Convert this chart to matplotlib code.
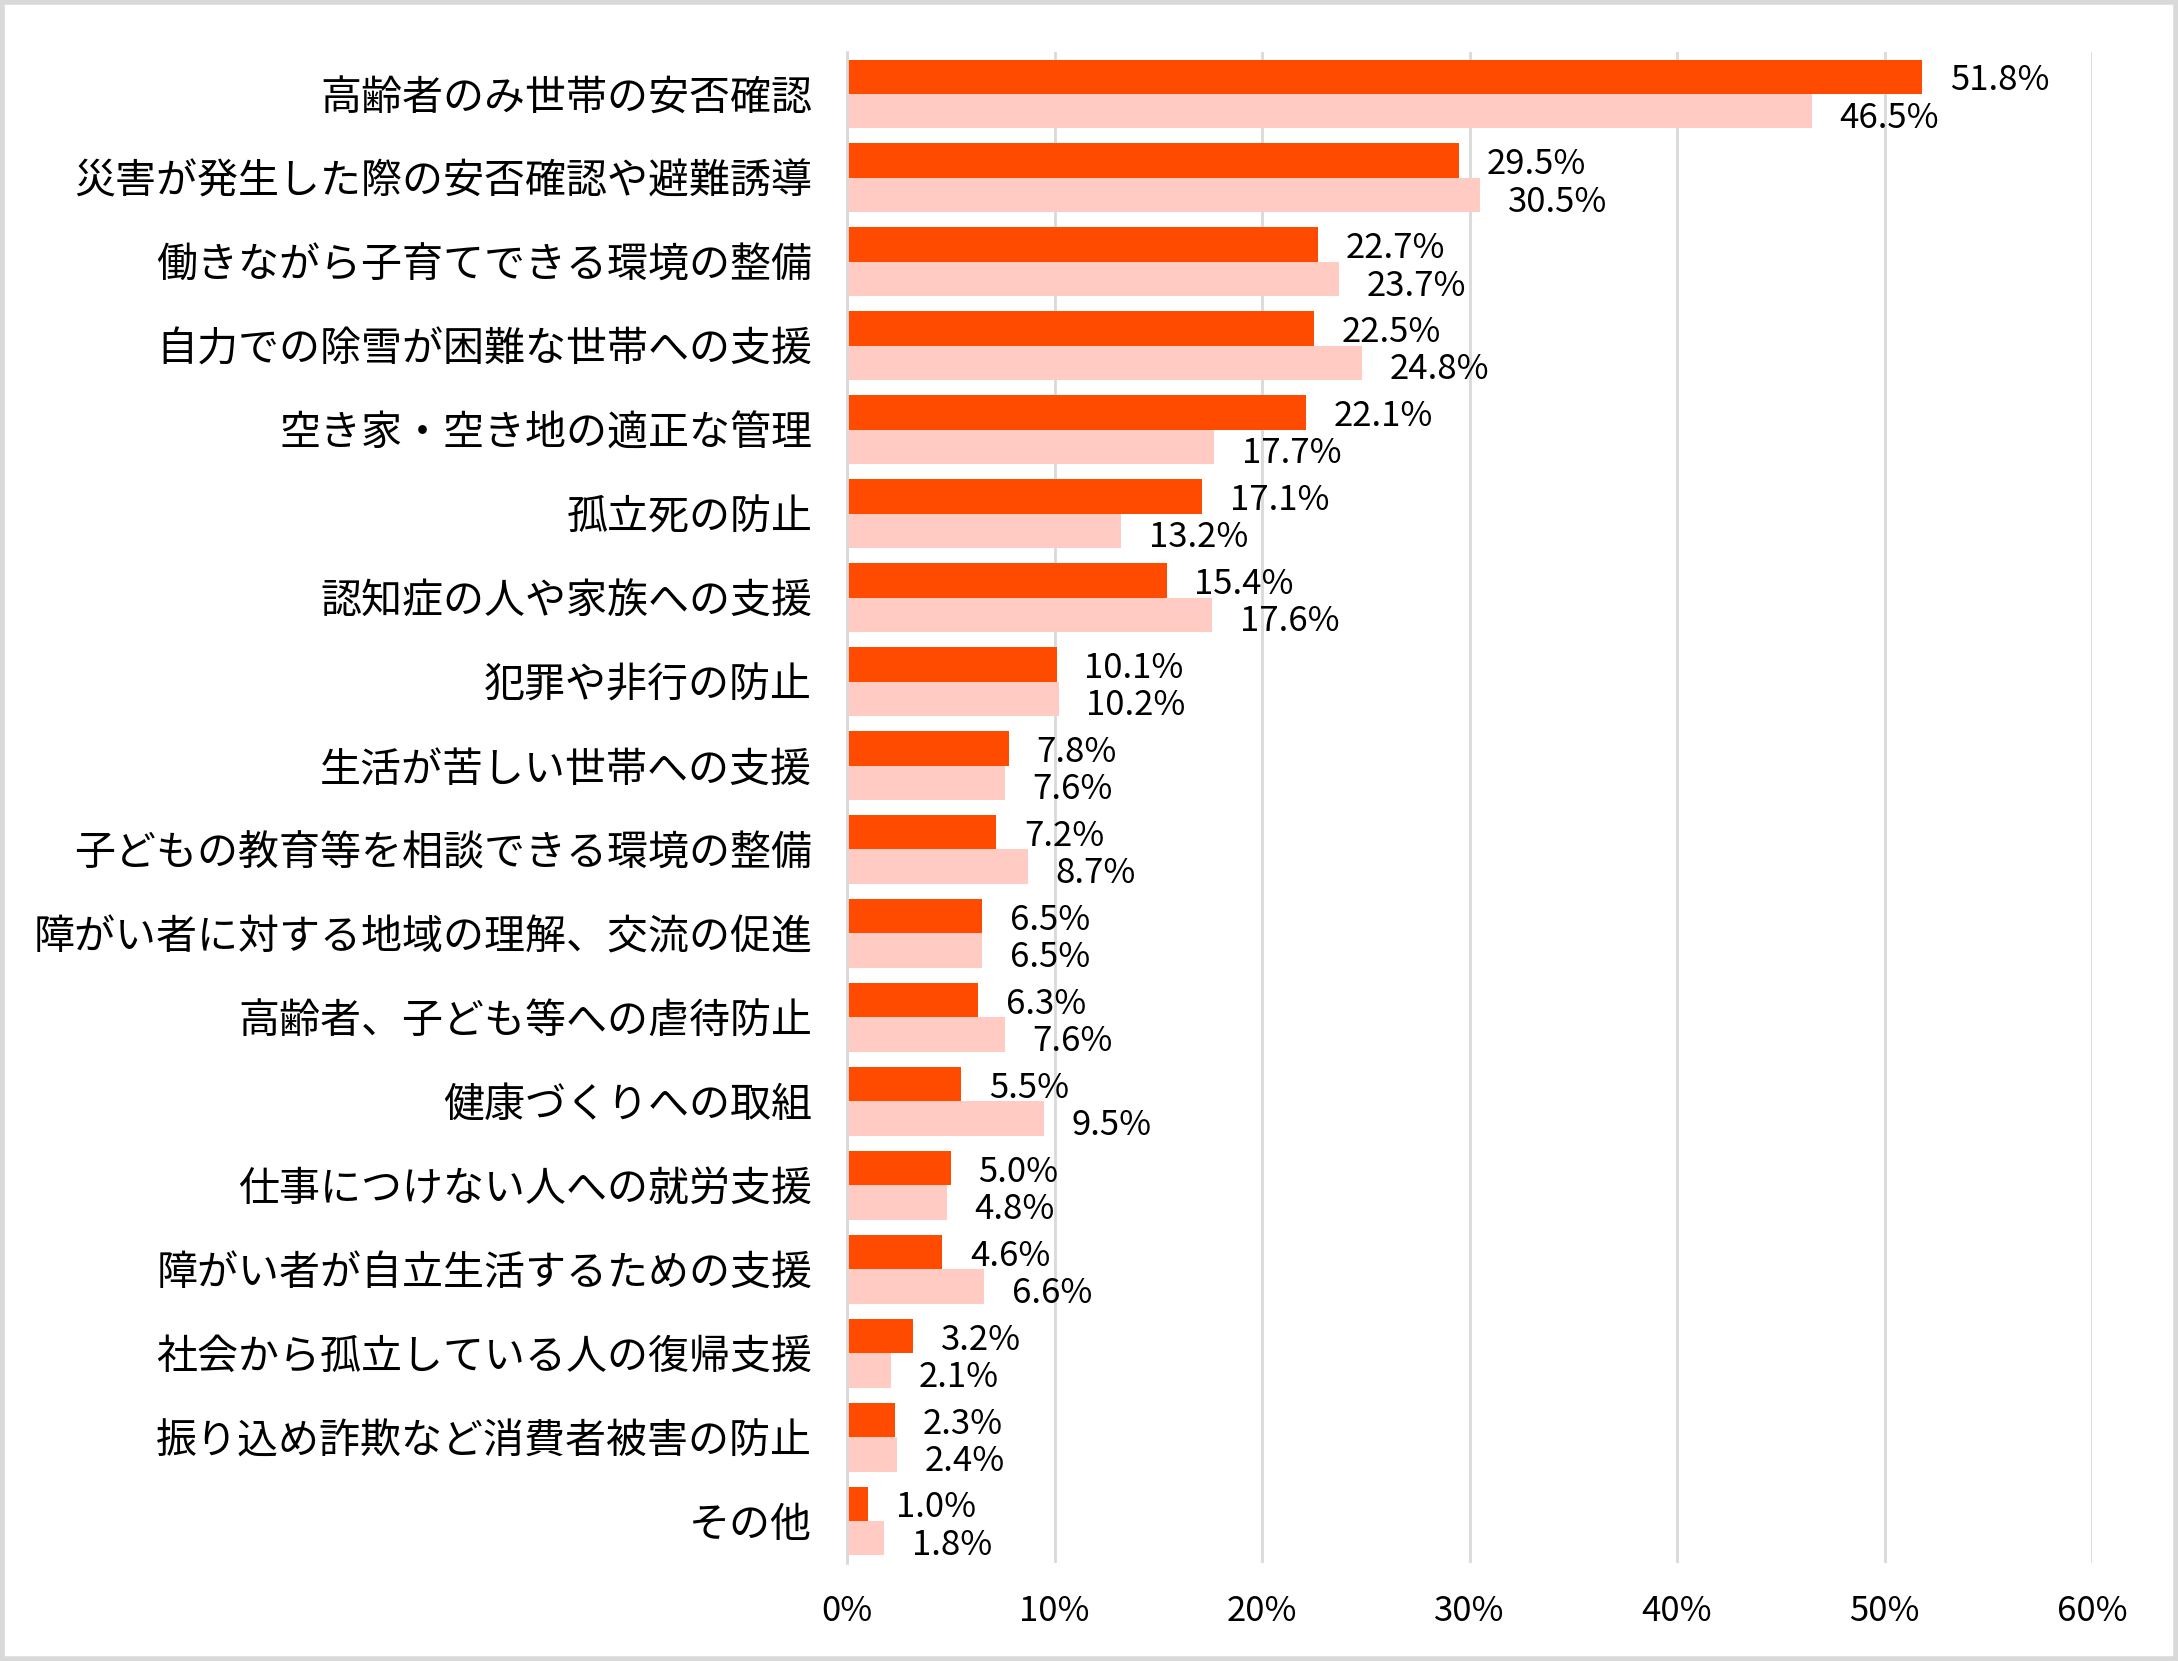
import matplotlib
matplotlib.use("Agg")
import matplotlib.pyplot as plt
import numpy as np
from matplotlib.patches import Rectangle

plt.rcParams['font.family'] = ['Noto Sans CJK JP', 'DejaVu Sans']

categories = [
    "高齢者のみ世帯の安否確認",
    "災害が発生した際の安否確認や避難誘導",
    "働きながら子育てできる環境の整備",
    "自力での除雪が困難な世帯への支援",
    "空き家・空き地の適正な管理",
    "孤立死の防止",
    "認知症の人や家族への支援",
    "犯罪や非行の防止",
    "生活が苦しい世帯への支援",
    "子どもの教育等を相談できる環境の整備",
    "障がい者に対する地域の理解、交流の促進",
    "高齢者、子ども等への虐待防止",
    "健康づくりへの取組",
    "仕事につけない人への就労支援",
    "障がい者が自立生活するための支援",
    "社会から孤立している人の復帰支援",
    "振り込め詐欺など消費者被害の防止",
    "その他",
]
series_a = [51.8, 29.5, 22.7, 22.5, 22.1, 17.1, 15.4, 10.1, 7.8, 7.2, 6.5, 6.3, 5.5, 5.0, 4.6, 3.2, 2.3, 1.0]
series_b = [46.5, 30.5, 23.7, 24.8, 17.7, 13.2, 17.6, 10.2, 7.6, 8.7, 6.5, 7.6, 9.5, 4.8, 6.6, 2.1, 2.4, 1.8]
x_ticks = [0, 10, 20, 30, 40, 50, 60]
x_ticklabels = ["0%", "10%", "20%", "30%", "40%", "50%", "60%"]

color_a = "#FF4B00"
color_b = "#FFCBC2"

fig = plt.figure(figsize=(21.78, 16.61), dpi=100)
ax = fig.add_axes([847/2178, 1 - 1563/1661, (2092-847)/2178, (1563-52)/1661])

n = len(categories)
y = np.arange(n)
h = 0.41
ax.barh(y - h/2, series_a, height=h, color=color_a, zorder=3)
ax.barh(y + h/2, series_b, height=h, color=color_b, zorder=3)

for yi, va, vb in zip(y, series_a, series_b):
    ax.annotate(f"{va:.1f}%", xy=(va, yi - h/2), xytext=(20, -3), textcoords="offset points",
                ha="left", va="center", fontsize=25, color="black")
    ax.annotate(f"{vb:.1f}%", xy=(vb, yi + h/2), xytext=(20, -5), textcoords="offset points",
                ha="left", va="center", fontsize=25, color="black")

ax.set_xlim(0, 60)
ax.set_ylim(n - 0.5, -0.5)
ax.set_xticks(x_ticks)
ax.set_xticklabels(x_ticklabels, fontsize=25)
ax.set_yticks(y)
ax.set_yticklabels(categories, fontsize=29.5)
ax.tick_params(axis='x', length=0, pad=22)
ax.tick_params(axis='y', length=0, pad=25)
ax.grid(axis='x', color="#D9D9D9", linewidth=2, zorder=0)
for s in ["top", "right", "bottom"]:
    ax.spines[s].set_visible(False)
ax.spines["left"].set_color("#D9D9D9")
ax.spines["left"].set_linewidth(2)
ax.spines["left"].set_zorder(4)

fig.patches.append(Rectangle((0.001, 0.001), 0.998, 0.998, transform=fig.transFigure,
                             fill=False, edgecolor="#D9D9D9", linewidth=4))

fig.savefig("out.png", dpi=100, facecolor="white")
